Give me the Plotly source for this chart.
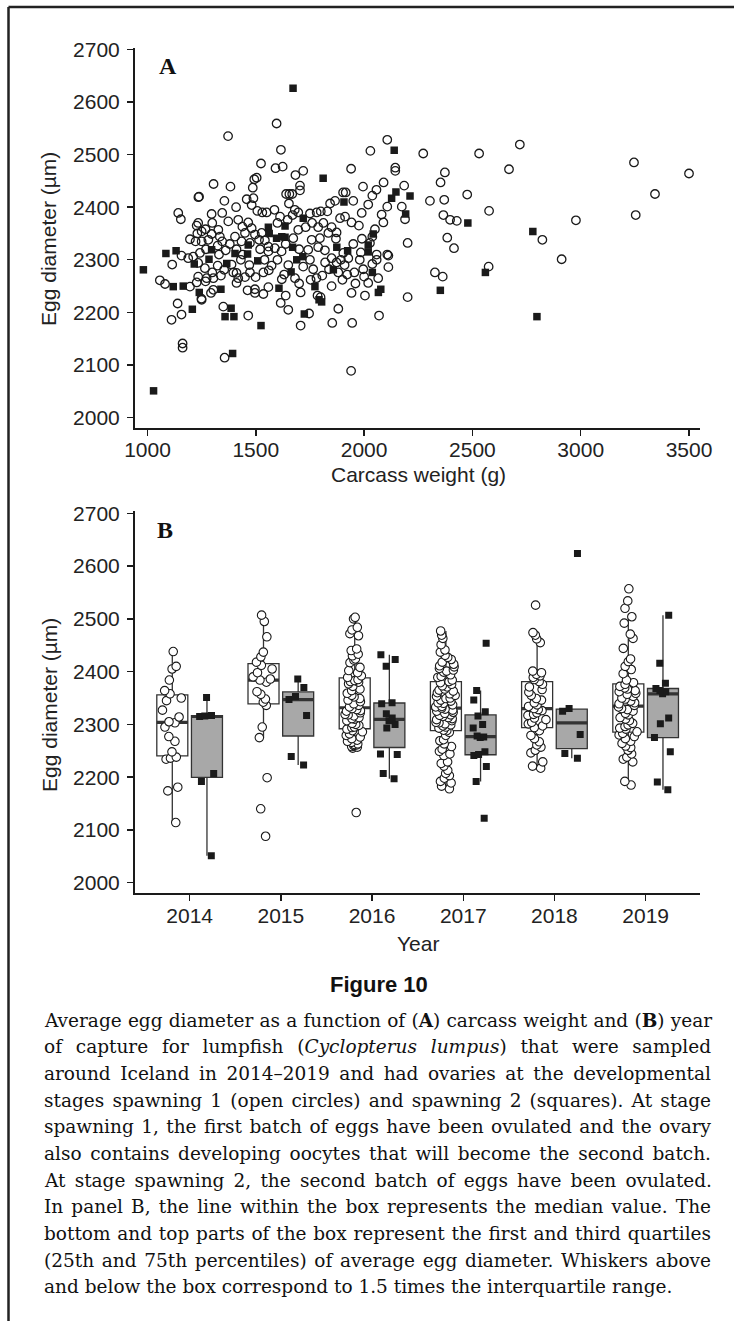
import numpy as np
import plotly.graph_objects as go

W, H = 734, 1321

# ---------------- Panel A data (carcass weight g, egg diameter um) ----------------
s1_weight = [1372, 1596, 2107, 2719, 3246, 3500, 3343, 2669, 2531, 2273, 2029, 1616, 1524, 1591, 1624,
             1719, 1683, 1504, 1940, 2373, 2353, 2476, 2090, 1995, 2057, 2185, 1305, 1383, 1486, 1704,
             1704, 1640, 1655, 1668, 1903, 1915, 2144, 2144, 1238, 2304, 2370, 1493,
             2978, 3254, 2577, 2366, 2397, 2428, 2415, 2384, 2823, 2912, 2327, 2363, 2575, 2189, 2174,
             1235, 1355, 1409, 1458, 1489, 1481, 1507, 1530, 1550, 1586, 1612, 1647, 1670, 1696, 1653,
             1750, 1781, 1800, 1843, 1866, 1950, 1889, 1912, 1942, 1976, 1989, 2019, 2038, 2081, 2089,
             2107, 2201, 2201, 2112, 2112, 2065, 2019, 2004, 1942, 2069, 1945, 1853, 1707, 1881, 1799,
             1785, 1615, 1650, 1638, 1707, 1753, 1681, 1631, 1719, 1765, 1807, 1838, 1881, 1922, 1955,
             1996, 2038, 2058, 2058, 2107, 2027, 2038, 2050, 1985, 1927, 1893, 1904, 1873, 1850, 1819,
             1788, 1742, 1758, 1796, 1835, 1873, 1850, 1812, 1788, 1730, 1696, 1673, 1638, 1619, 1588,
             1558, 1573, 1535, 1499, 1473, 1450, 1419, 1396, 1411, 1462, 1496, 1535, 1558, 1496,
             1142, 1154, 1234, 1250, 1268, 1227, 1296, 1345, 1299, 1327, 1334, 1345, 1324, 1361, 1296,
             1281, 1250, 1222, 1196, 1242, 1211, 1188, 1157, 1114, 1234, 1265, 1299, 1324, 1354, 1339,
             1304, 1273, 1234, 1227, 1268, 1304, 1293, 1250, 1139, 1157, 1111, 1057, 1081, 1196, 1350,
             1465, 1411, 1388, 1431, 1411, 1434, 1450, 1481, 1438, 1419, 1373, 1404, 1465, 1496, 1473,
             1515, 1542, 1527, 1558,
             1162, 1162, 1356, 1940, 1746, 1249,
             1600, 1680, 1760, 1830, 1870, 1950, 1990, 1540, 1600, 1650, 1700, 1750, 1820, 1910, 1980,
             1440, 1380, 1330, 1270, 1230, 1470, 1520, 1560, 1620, 1700, 1780, 1850, 1900, 1960, 2000]
s1_diam = [2535, 2559, 2528, 2519, 2485, 2464, 2425, 2472, 2502, 2502, 2507, 2509, 2483, 2474, 2477,
           2469, 2461, 2456, 2473, 2466, 2447, 2424, 2447, 2439, 2433, 2441, 2444, 2439, 2437, 2441,
           2432, 2425, 2425, 2425, 2428, 2428, 2475, 2469, 2420, 2412, 2414, 2453,
           2375, 2385, 2393, 2385, 2376, 2374, 2322, 2342, 2338, 2301, 2276, 2268, 2287, 2377, 2401,
           2419, 2412, 2400, 2415, 2417, 2404, 2393, 2390, 2390, 2395, 2382, 2376, 2385, 2390, 2407,
           2388, 2390, 2392, 2407, 2412, 2412, 2379, 2382, 2371, 2365, 2389, 2405, 2422, 2386, 2371,
           2401, 2332, 2229, 2308, 2286, 2265, 2256, 2232, 2237, 2194, 2180, 2180, 2175, 2207, 2229,
           2232, 2218, 2205, 2232, 2238, 2262, 2265, 2272, 2287, 2282, 2270, 2282, 2276, 2272, 2276,
           2282, 2292, 2300, 2310, 2310, 2332, 2344, 2358, 2314, 2303, 2300, 2313, 2295, 2303, 2318,
           2324, 2319, 2338, 2341, 2351, 2352, 2362, 2370, 2362, 2362, 2357, 2341, 2330, 2316, 2322,
           2316, 2289, 2276, 2267, 2276, 2267, 2265, 2276, 2256, 2242, 2237, 2235, 2248, 2244,
           2389, 2377, 2370, 2354, 2358, 2365, 2387, 2389, 2370, 2357, 2344, 2335, 2327, 2318, 2349,
           2338, 2335, 2335, 2339, 2313, 2306, 2303, 2308, 2291, 2294, 2284, 2276, 2289, 2281, 2270,
           2265, 2265, 2268, 2257, 2259, 2243, 2237, 2224, 2217, 2196, 2186, 2261, 2254, 2249, 2211,
           2194, 2275, 2291, 2300, 2320, 2335, 2351, 2360, 2363, 2376, 2373, 2344, 2371, 2348, 2332,
           2338, 2337, 2351, 2325,
           2141, 2133, 2114, 2089, 2198, 2226,
           2370, 2395, 2370, 2392, 2340, 2330, 2340, 2300, 2300, 2290, 2320, 2300, 2295, 2290, 2300,
           2310, 2330, 2310, 2320, 2350, 2290, 2320, 2280, 2263, 2255, 2265, 2250, 2262, 2255, 2268]

s2_weight = [1672, 2139, 1811, 1907, 2127, 2147, 2212, 2192, 2479, 2779, 2560, 2352, 981, 1085, 1132,
             1119, 1165, 1216, 1239, 1207, 1284, 1296, 1339, 1366, 1404, 1465, 1462, 1509, 1558, 1562,
             1596, 1620, 1635, 1719, 1670, 1689, 1717, 1663, 1607, 1773, 1792, 1804, 1724, 1524, 1386,
             1358, 1399, 1393, 1028, 2798, 2042, 2019, 2019, 1874, 1924, 1858, 2038, 2077, 2066, 1635]
s2_diam = [2626, 2508, 2455, 2410, 2417, 2429, 2421, 2387, 2370, 2354, 2276, 2242, 2281, 2312, 2317,
           2249, 2250, 2292, 2238, 2206, 2301, 2319, 2244, 2293, 2312, 2328, 2311, 2298, 2362, 2350,
           2341, 2344, 2364, 2379, 2324, 2300, 2306, 2277, 2246, 2249, 2224, 2220, 2197, 2175, 2208,
           2192, 2192, 2122, 2051, 2192, 2349, 2328, 2315, 2324, 2317, 2281, 2276, 2244, 2238, 2343]

# ---------------- Panel B data (egg diameter by year and stage) ----------------
years = [2014, 2015, 2016, 2017, 2018, 2019]
year_labels = ["2014", "2015", "2016", "2017", "2018", "2019"]

sp1_2014 = [2438, 2410, 2405, 2384, 2364, 2358, 2350, 2345, 2327, 2314, 2305, 2303, 2295, 2277, 2268,
            2248, 2238, 2236, 2234, 2181, 2174, 2114]
sp1_2015 = [2507, 2495, 2466, 2437, 2428, 2418, 2412, 2405, 2398, 2390, 2386, 2384, 2380, 2362, 2357,
            2348, 2342, 2336, 2295, 2275, 2199, 2140, 2088]
sp1_2016 = [2503, 2500, 2484, 2479, 2472, 2468, 2443, 2440, 2433, 2430, 2424, 2422, 2417, 2408, 2402,
            2398, 2392, 2389, 2383, 2380, 2377, 2372, 2367, 2364, 2359, 2355, 2352, 2349, 2346, 2343,
            2339, 2336, 2333, 2385, 2381, 2330, 2328, 2326, 2322, 2319, 2316, 2311, 2307, 2302, 2298,
            2294, 2325, 2318, 2310, 2300, 2295, 2313, 2291, 2288, 2286, 2282, 2279, 2276, 2273, 2270,
            2266, 2263, 2261, 2260, 2258, 2257, 2255, 2268, 2262, 2133]
sp1_2017 = [2178, 2183, 2189, 2192, 2198, 2203, 2207, 2213, 2221, 2226, 2229, 2241, 2244, 2249, 2253,
            2258, 2263, 2269, 2271, 2279, 2285, 2288, 2289, 2293, 2295, 2297, 2299, 2301, 2303, 2304,
            2307, 2309, 2311, 2313, 2315, 2317, 2318, 2321, 2323, 2325, 2327, 2329, 2331, 2333, 2334,
            2337, 2340, 2341, 2344, 2346, 2349, 2350, 2353, 2355, 2358, 2360, 2363, 2365, 2367, 2371,
            2373, 2376, 2379, 2381, 2384, 2389, 2391, 2394, 2399, 2401, 2403, 2406, 2409, 2411, 2414,
            2418, 2423, 2427, 2431, 2437, 2441, 2451, 2463, 2469, 2477]
sp1_2018 = [2217, 2221, 2229, 2246, 2251, 2257, 2261, 2267, 2273, 2279, 2288, 2294, 2297, 2301, 2304,
            2309, 2312, 2317, 2319, 2322, 2326, 2328, 2330, 2334, 2337, 2341, 2346, 2349, 2355, 2361,
            2366, 2371, 2376, 2381, 2385, 2389, 2392, 2395, 2398, 2401, 2455, 2462, 2469, 2474, 2526]
sp1_2019 = [2185, 2192, 2229, 2234, 2238, 2244, 2251, 2256, 2259, 2264, 2268, 2273, 2277, 2280, 2283,
            2286, 2291, 2293, 2296, 2299, 2302, 2307, 2310, 2313, 2318, 2321, 2325, 2328, 2330, 2333,
            2336, 2339, 2341, 2344, 2348, 2350, 2353, 2357, 2359, 2362, 2364, 2367, 2369, 2372, 2376,
            2379, 2384, 2396, 2404, 2410, 2419, 2424, 2444, 2463, 2471, 2492, 2504, 2520, 2534, 2557]

sp2_2014 = [2351, 2317, 2316, 2315, 2207, 2192, 2051]
sp2_2015 = [2386, 2370, 2353, 2347, 2317, 2239, 2223]
sp2_2016 = [2432, 2423, 2410, 2341, 2339, 2320, 2312, 2307, 2300, 2293, 2244, 2243, 2207, 2197]
sp2_2017 = [2454, 2364, 2346, 2324, 2316, 2300, 2293, 2278, 2276, 2275, 2248, 2243, 2241, 2220, 2192, 2122]
sp2_2018 = [2624, 2330, 2325, 2281, 2245, 2236]
sp2_2019 = [2507, 2416, 2378, 2368, 2364, 2362, 2358, 2312, 2301, 2275, 2248, 2191, 2176]

sp1_by_year = [sp1_2014, sp1_2015, sp1_2016, sp1_2017, sp1_2018, sp1_2019]
sp2_by_year = [sp2_2014, sp2_2015, sp2_2016, sp2_2017, sp2_2018, sp2_2019]

weight_ticks = [1000, 1500, 2000, 2500, 3000, 3500]
diam_ticks = [2000, 2100, 2200, 2300, 2400, 2500, 2600, 2700]

caption_lines = [
    "Average egg diameter as a function of (<b>A</b>) carcass weight and (<b>B</b>) year",
    "of capture for lumpfish (<i>Cyclopterus lumpus</i>) that were sampled",
    "around Iceland in 2014\u20132019 and had ovaries at the developmental",
    "stages spawning 1 (open circles) and spawning 2 (squares). At stage",
    "spawning 1, the first batch of eggs have been ovulated and the ovary",
    "also contains developing oocytes that will become the second batch.",
    "At stage spawning 2, the second batch of eggs have been ovulated.",
    "In panel B, the line within the box represents the median value. The",
    "bottom and top parts of the box represent the first and third quartiles",
    "(25th and 75th percentiles) of average egg diameter. Whiskers above",
    "and below the box correspond to 1.5 times the interquartile range.",
]

# ---------------- Figure ----------------
fig = go.Figure()

INK = "#1a1a1a"
SANS = "Liberation Sans, Arial, sans-serif"
FS = 21

fig.add_trace(go.Scatter(x=s1_weight, y=s1_diam, mode="markers", xaxis="x", yaxis="y",
                         marker=dict(symbol="circle-open", size=8.5, color=INK, line=dict(width=1.3, color=INK)),
                         showlegend=False, hoverinfo="skip"))
fig.add_trace(go.Scatter(x=s2_weight, y=s2_diam, mode="markers", xaxis="x", yaxis="y",
                         marker=dict(symbol="square", size=7.5, color=INK, line=dict(width=0)),
                         showlegend=False, hoverinfo="skip"))


def tukey_stats(vals):
    v = np.asarray(vals, dtype=float)
    q1, med, q3 = np.percentile(v, [25, 50, 75])
    iqr = q3 - q1
    lo = v[v >= q1 - 1.5 * iqr].min()
    hi = v[v <= q3 + 1.5 * iqr].max()
    return float(q1), float(med), float(q3), float(lo), float(hi)


DODGE = 0.19
BOXW = 0.34
for stage, data_list, fill in [(1, sp1_by_year, "white"), (2, sp2_by_year, "#a8a8a8")]:
    sign = -1 if stage == 1 else 1
    for yr, vals in zip(years, data_list):
        pos = yr + sign * DODGE
        q1, med, q3, lo, hi = tukey_stats(vals)
        # box body & whiskers (ggplot-style quartiles)
        fig.add_trace(go.Box(x=[pos], q1=[q1], median=[med], q3=[q3], lowerfence=[lo], upperfence=[hi],
                             width=BOXW, xaxis="x2", yaxis="y2",
                             fillcolor=fill, line=dict(color="#333333", width=1.3),
                             whiskerwidth=0, showlegend=False, hoverinfo="skip"))
        # thick median line
        fig.add_trace(go.Box(x=[pos], q1=[med], median=[med], q3=[med], lowerfence=[med], upperfence=[med],
                             width=BOXW, xaxis="x2", yaxis="y2",
                             fillcolor="rgba(0,0,0,0)", line=dict(color="#333333", width=3.2),
                             whiskerwidth=0, showlegend=False, hoverinfo="skip"))
        # jittered points
        if stage == 1:
            mk = dict(symbol="circle", size=8.5, color="white", line=dict(width=1.1, color=INK))
        else:
            mk = dict(symbol="square", size=7, color=INK, line=dict(width=0))
        fig.add_trace(go.Box(y=vals, x0=pos, width=BOXW, xaxis="x2", yaxis="y2",
                             fillcolor="rgba(0,0,0,0)", line=dict(color="rgba(0,0,0,0)", width=0),
                             whiskerwidth=0, boxpoints="all", jitter=0.7, pointpos=0,
                             marker=mk, showlegend=False, hoverinfo="skip"))


def px_x(p):
    return p / W


def px_y(p):
    return 1 - p / H


axis_common = dict(showline=True, linecolor=INK, linewidth=2, ticks="outside", ticklen=6,
                   tickwidth=1.4, tickcolor=INK, showgrid=False, zeroline=False, automargin=False,
                   tickfont=dict(family=SANS, size=FS, color="#222222"))

xdom = [px_x(135), px_x(700)]
fig.update_layout(
    template="none",
    width=W, height=H, margin=dict(l=0, r=0, t=0, b=0, pad=0, autoexpand=False),
    paper_bgcolor="white", plot_bgcolor="white", showlegend=False,
    boxmode="overlay",
    xaxis=dict(domain=xdom, range=[942.3, 3550.8], tickvals=weight_ticks, anchor="y",
               ticklabelstandoff=-4, **axis_common),
    yaxis=dict(domain=[px_y(428), px_y(47.7)], range=[1980.4, 2703], tickvals=diam_ticks, anchor="x",
               ticklabelstandoff=3, **axis_common),
    xaxis2=dict(domain=xdom, range=[2013.401, 2019.596], tickvals=years, ticktext=year_labels, anchor="y2",
                ticklabelstandoff=-4, **axis_common),
    yaxis2=dict(domain=[px_y(893.3), px_y(511)], range=[1979.9, 2704.4], tickvals=diam_ticks, anchor="x2",
                ticklabelstandoff=3, **axis_common),
)

ann = []
# caption lines (indices 0..10)
for i, line in enumerate(caption_lines):
    ann.append(dict(text=line, x=px_x(42), y=px_y(1020 + i * 26.67), xref="paper", yref="paper",
                    xanchor="left", yanchor="middle", align="left", showarrow=False,
                    font=dict(family="DejaVu Serif, serif", size=18.5, color="#111111")))

ann += [
    dict(text="Carcass weight (g)", x=px_x(418), y=px_y(475), font=dict(family=SANS, size=FS, color="#222222")),
    dict(text="Year", x=px_x(418), y=px_y(943), font=dict(family=SANS, size=FS, color="#222222")),
    dict(text="Egg diameter (\u00b5m)", x=px_x(49), y=px_y(239), textangle=-90,
         font=dict(family=SANS, size=FS, color="#222222")),
    dict(text="Egg diameter (\u00b5m)", x=px_x(49), y=px_y(705), textangle=-90,
         font=dict(family=SANS, size=FS, color="#222222")),
    dict(text="<b>A</b>", x=px_x(167.5), y=px_y(66), font=dict(family="Liberation Serif, Times New Roman, serif", size=24, color="#111111")),
    dict(text="<b>B</b>", x=px_x(165), y=px_y(530), font=dict(family="Liberation Serif, Times New Roman, serif", size=24, color="#111111")),
    dict(text="<b>Figure 10</b>", x=px_x(378.5), y=px_y(984), font=dict(family=SANS, size=22, color="#111111")),
]
for a in ann[len(caption_lines):]:
    a.update(xref="paper", yref="paper", xanchor="center", yanchor="middle", showarrow=False)
fig.update_layout(annotations=ann)

# frame (top and left edges)
fig.add_shape(type="line", xref="paper", yref="paper", x0=px_x(8.5), x1=1.0, y0=px_y(7), y1=px_y(7),
              line=dict(color="#222222", width=2.5))
fig.add_shape(type="line", xref="paper", yref="paper", x0=px_x(8.5), x1=px_x(8.5), y0=px_y(7), y1=0,
              line=dict(color="#222222", width=2.5))

justify_js = """
document.body.style.margin = '0';
document.body.style.overflow = 'hidden';
function justifyCaption(){
  var gd = document.getElementById('{plot_id}');
  if (!gd) return;
  var target = 667;
  for (var i = 0; i < 10; i++) {
    var t = gd.querySelector('.annotation[data-index="' + i + '"] text.annotation-text');
    if (!t) continue;
    t.style.wordSpacing = '0px';
    var nat = t.getComputedTextLength();
    var n = (t.textContent.match(/ /g) || []).length;
    if (n > 0) { t.style.wordSpacing = ((target - nat) / n) + 'px'; }
  }
}
justifyCaption();
if (document.fonts && document.fonts.ready) { document.fonts.ready.then(justifyCaption); }
"""

fig.write_html("out.html", config={"displayModeBar": False, "staticPlot": True}, post_script=justify_js)
